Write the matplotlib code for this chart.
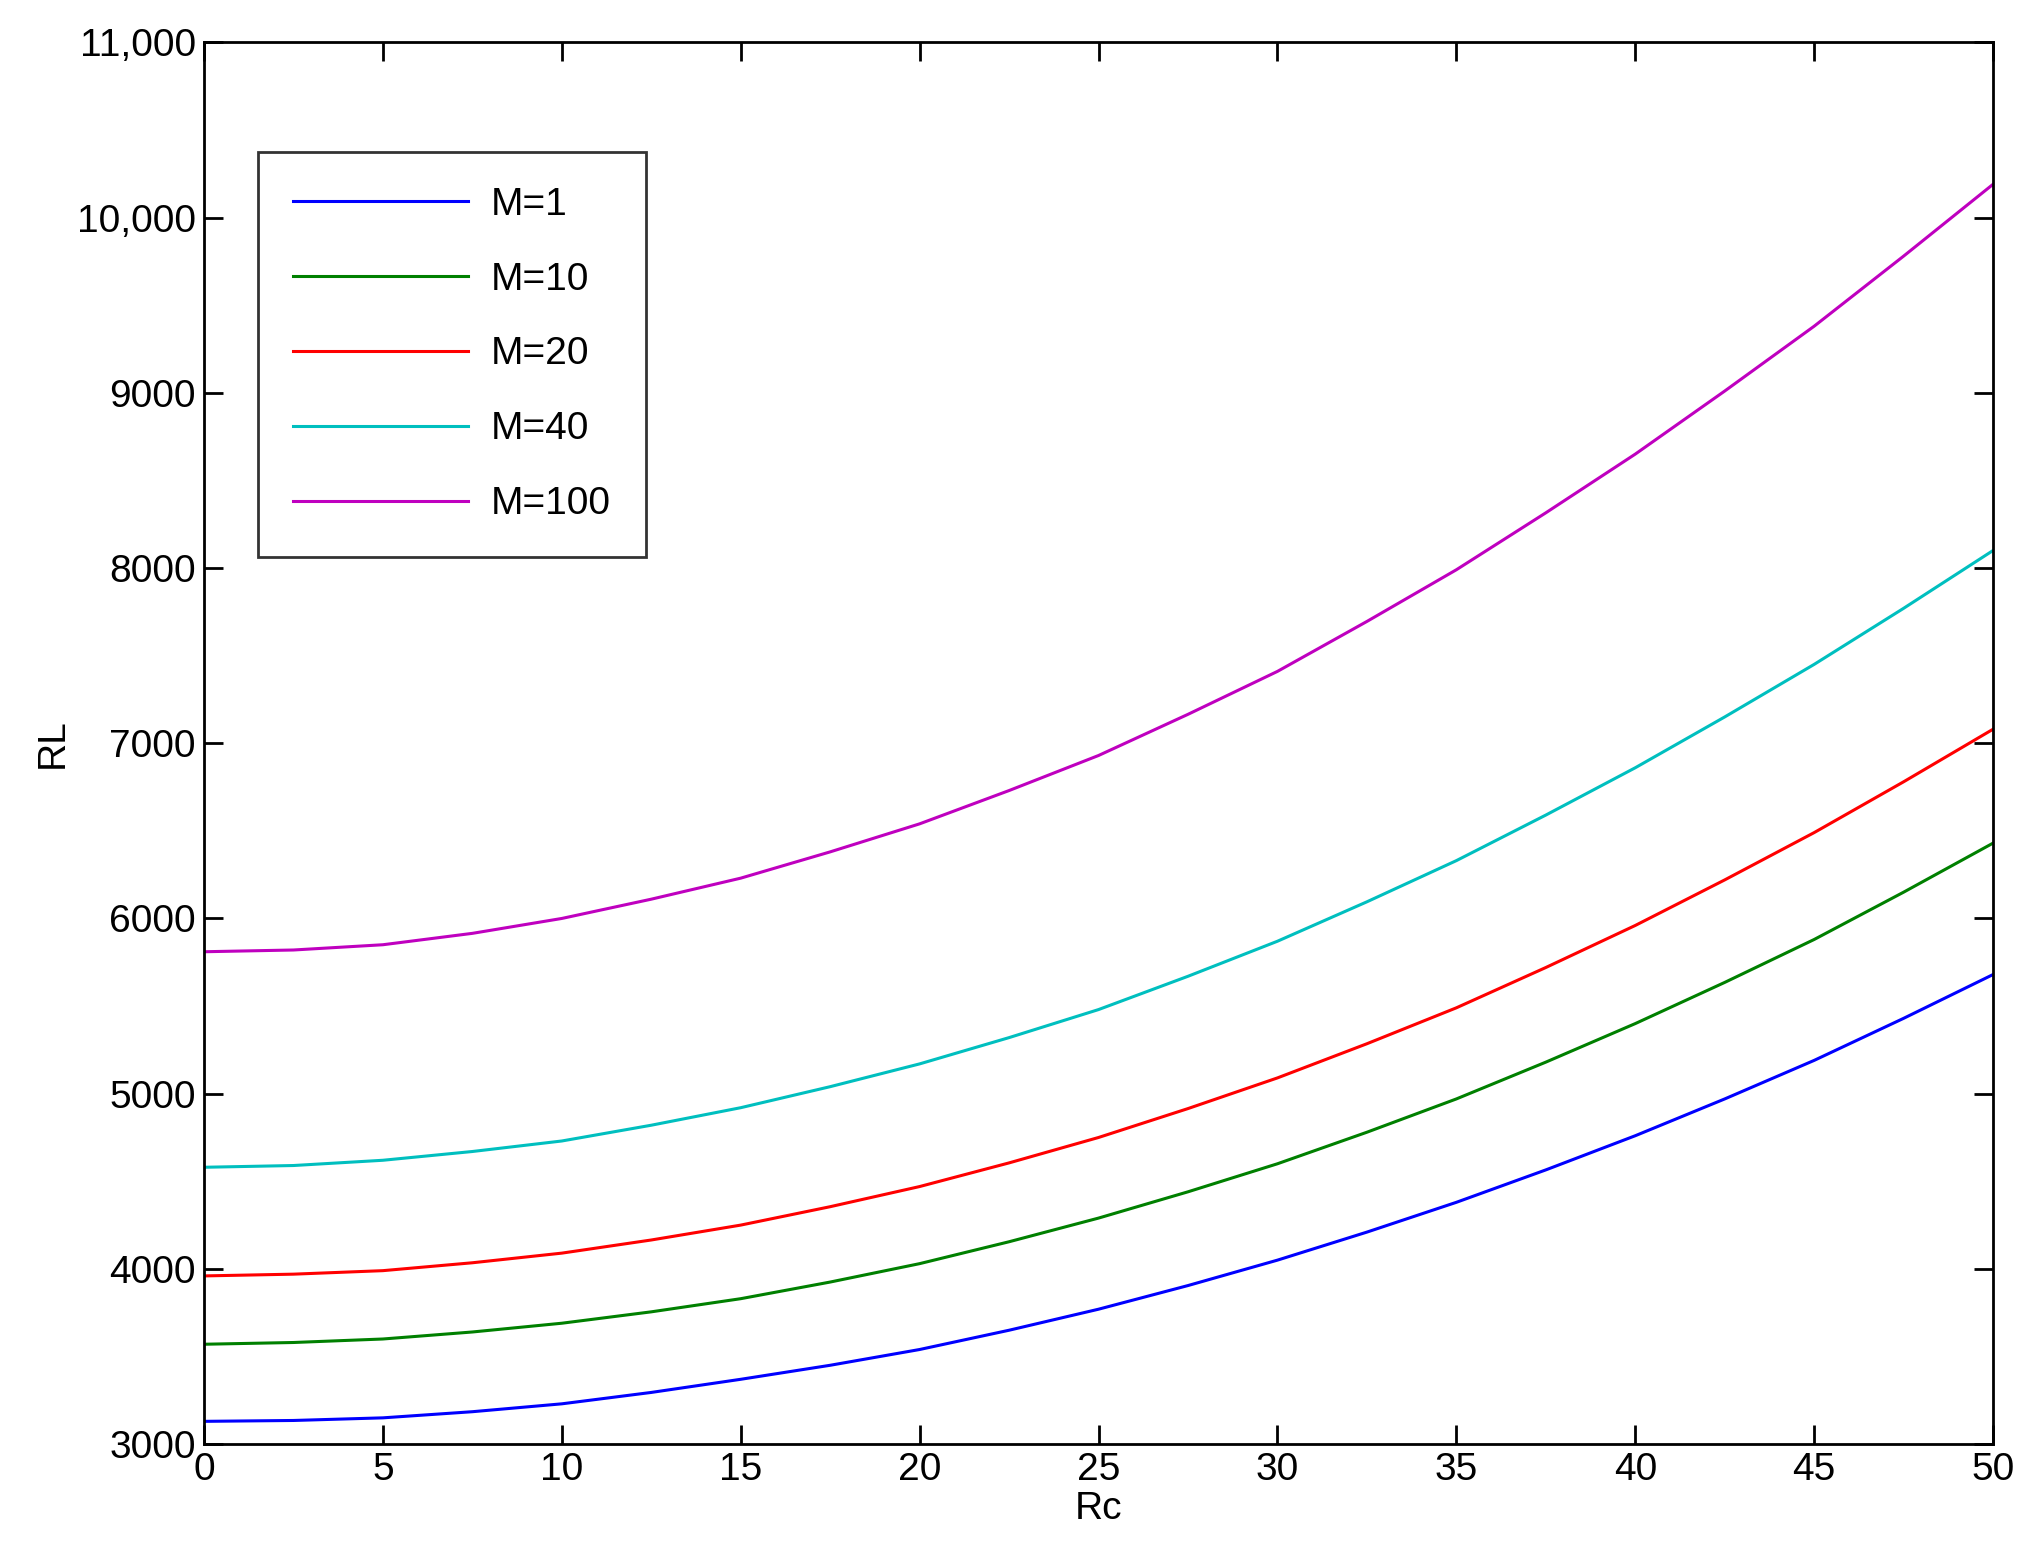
import matplotlib
matplotlib.use('Agg')
import matplotlib.pyplot as plt
from matplotlib.ticker import FuncFormatter

rc = [0, 2.5, 5, 7.5, 10, 12.5, 15, 17.5, 20, 22.5, 25, 27.5, 30, 32.5, 35, 37.5,
      40, 42.5, 45, 47.5, 50]
rl_m1 = [3130, 3135, 3150, 3185, 3230, 3295, 3370, 3450, 3540, 3650, 3770, 3905,
         4050, 4210, 4380, 4565, 4760, 4970, 5190, 5430, 5680]
rl_m10 = [3570, 3580, 3600, 3640, 3690, 3755, 3830, 3925, 4030, 4155, 4290, 4440,
          4600, 4780, 4970, 5180, 5400, 5635, 5880, 6150, 6430]
rl_m20 = [3960, 3970, 3990, 4035, 4090, 4165, 4250, 4355, 4470, 4605, 4750, 4915,
          5090, 5285, 5490, 5720, 5960, 6220, 6490, 6780, 7080]
rl_m40 = [4580, 4590, 4620, 4670, 4730, 4820, 4920, 5040, 5170, 5320, 5480, 5670,
          5870, 6095, 6330, 6590, 6860, 7150, 7450, 7770, 8100]
rl_m100 = [5810, 5820, 5850, 5915, 6000, 6110, 6230, 6380, 6540, 6730, 6930, 7165,
           7410, 7695, 7990, 8315, 8650, 9010, 9380, 9780, 10190]

series = [('M=1', rl_m1, '#0000ff'), ('M=10', rl_m10, '#008000'),
          ('M=20', rl_m20, '#ff0000'), ('M=40', rl_m40, '#00bfbf'),
          ('M=100', rl_m100, '#bf00bf')]

plt.rcParams['font.family'] = ['Liberation Sans', 'DejaVu Sans']
fig = plt.figure(figsize=(20.4, 15.68), dpi=100)
ax = fig.add_axes([0.100, 0.079, 0.877, 0.894])
for lab, ys, col in series:
    ax.plot(rc, ys, color=col, lw=2.2, label=lab)

ax.set_xlim(0, 50)
ax.set_ylim(3000, 11000)
ax.set_xticks(range(0, 51, 5))
ax.set_yticks(range(3000, 11001, 1000))
ax.yaxis.set_major_formatter(FuncFormatter(lambda v, p: f'{int(v):,}' if v >= 10000 else f'{int(v)}'))
ax.tick_params(direction='in', top=True, right=True, length=14, width=2, labelsize=28, pad=6)
for sp in ax.spines.values():
    sp.set_linewidth(2)
ax.set_xlabel('Rc', fontsize=28, labelpad=2)
ax.set_ylabel('RL', fontsize=28, labelpad=4)

leg = ax.legend(loc='upper left', bbox_to_anchor=(0.03, 0.922), fontsize=28, frameon=True,
                fancybox=False, edgecolor='black', handlelength=4.5, handletextpad=0.6,
                labelspacing=1.0, borderpad=0.9, borderaxespad=0)
leg.get_frame().set_linewidth(2)

fig.savefig('out.png', dpi=100, facecolor='white')
